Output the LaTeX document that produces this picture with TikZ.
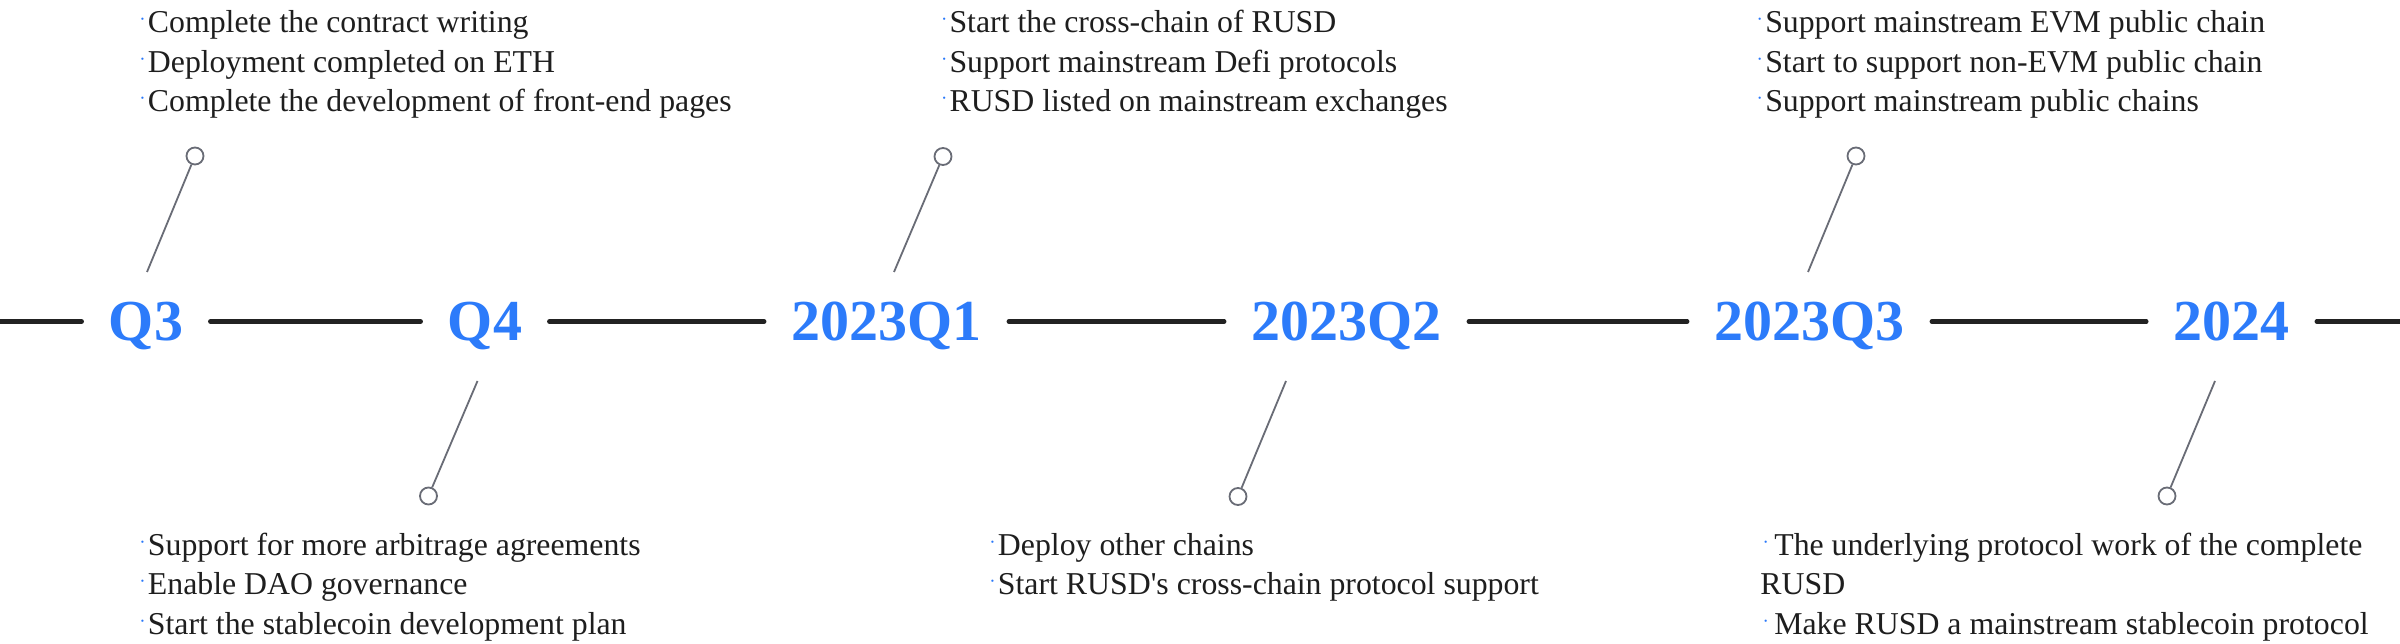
\documentclass[tikz,border=0pt]{standalone}
\usepackage{fontspec}
\setmainfont{Liberation Serif}
\definecolor{lblblue}{RGB}{44,123,250}
\definecolor{dotblue}{RGB}{40,120,250}
\definecolor{txtcol}{RGB}{30,30,30}
\definecolor{conncol}{RGB}{105,108,118}
\definecolor{linecol}{RGB}{34,34,34}
\newcommand{\bulx}[1]{\textcolor{dotblue}{\fontsize{19}{19}\selectfont\raisebox{7pt}{·}}\hspace{#1pt}}
\begin{document}
\begin{tikzpicture}[x=1pt,y=-1pt,
  lbl/.style={font=\fontsize{58}{58}\selectfont\bfseries, text=lblblue, text height=38pt, text depth=0pt, inner ysep=0pt, inner xsep=27pt},
  itm/.style={font=\fontsize{31.8}{39.4}\selectfont, text=txtcol, anchor=base west, inner sep=0pt},
  tl/.style={line width=4.4pt, draw=linecol, line cap=round},
  conn/.style={line width=1.8pt, draw=conncol},
  pin/.style={circle, draw=conncol, line width=1.8pt, fill=white, minimum size=17pt, inner sep=0pt}]
\useasboundingbox[fill=white] (0,0) rectangle (2400,644);

% timeline labels
\node[lbl] (q3) at (146,321.5) {Q3};
\node[lbl] (q4) at (485,321.5) {Q4};
\node[lbl] (q23a) at (886.5,321.5) {2023Q1};
\node[lbl] (q23b) at (1346.5,321.5) {2023Q2};
\node[lbl] (q23c) at (1809.5,321.5) {2023Q3};
\node[lbl] (y24) at (2231.5,321.5) {2024};
\coordinate (lend) at (0,321.5);
\coordinate (rend) at (2400,321.5);

\draw[tl] (lend) -- (q3);
\draw[tl] (q3) -- (q4);
\draw[tl] (q4) -- (q23a);
\draw[tl] (q23a) -- (q23b);
\draw[tl] (q23b) -- (q23c);
\draw[tl] (q23c) -- (y24);
\draw[tl] (y24) -- (rend);

% pins
\node[pin] (p1) at (195,156) {};
\coordinate (p1e) at (147,272);
\draw[conn] (p1) -- (p1e);
\node[pin] (p2) at (428.5,496) {};
\coordinate (p2e) at (477.5,381);
\draw[conn] (p2) -- (p2e);
\node[pin] (p3) at (943,156.5) {};
\coordinate (p3e) at (894,272);
\draw[conn] (p3) -- (p3e);
\node[pin] (p4) at (1238,496.5) {};
\coordinate (p4e) at (1286,381);
\draw[conn] (p4) -- (p4e);
\node[pin] (p5) at (1856,156) {};
\coordinate (p5e) at (1808,272);
\draw[conn] (p5) -- (p5e);
\node[pin] (p6) at (2167,496) {};
\coordinate (p6e) at (2215,381);
\draw[conn] (p6) -- (p6e);

% Q3 items
\node[itm] (a1) at (139.2,32.7) {\bulx{2.2}Complete the contract writing};
\node[itm] (a2) at (139.2,72.1) {\bulx{2.2}Deployment completed on ETH};
\node[itm] (a3) at (139.2,111.5) {\bulx{2.2}Complete the development of front-end pages};

% 2023Q1 items
\node[itm] (c1) at (940.8,32.7) {\bulx{2.2}Start the cross-chain of RUSD};
\node[itm] (c2) at (940.8,72.1) {\bulx{2.2}Support mainstream Defi protocols};
\node[itm] (c3) at (940.8,111.5) {\bulx{2.2}RUSD listed on mainstream exchanges};

% 2023Q3 items
\node[itm] (e1) at (1756.5,32.7) {\bulx{2.2}Support mainstream EVM public chain};
\node[itm] (e2) at (1756.5,72.1) {\bulx{2.2}Start to support non-EVM public chain};
\node[itm] (e3) at (1756.5,111.5) {\bulx{2.2}Support mainstream public chains};

% Q4 items
\node[itm] (b1) at (139.2,555.5) {\bulx{2.2}Support for more arbitrage agreements};
\node[itm] (b2) at (139.2,594.9) {\bulx{2.2}Enable DAO governance};
\node[itm] (b3) at (139.2,634.3) {\bulx{2.2}Start the stablecoin development plan};

% 2023Q2 items
\node[itm] (d1) at (989.2,555.5) {\bulx{2.2}Deploy other chains};
\node[itm] (d2) at (989.2,594.9) {\bulx{2.2}Start RUSD\textquotesingle s cross-chain protocol support};

% 2024 items
\node[itm] (f1) at (1762.5,555.5) {\bulx{5.3}The underlying protocol work of the complete};
\node[itm] (f2) at (1760.2,594.9) {RUSD};
\node[itm] (f3) at (1762.5,634.3) {\bulx{5.3}Make RUSD a mainstream stablecoin protocol};
\end{tikzpicture}
\end{document}
